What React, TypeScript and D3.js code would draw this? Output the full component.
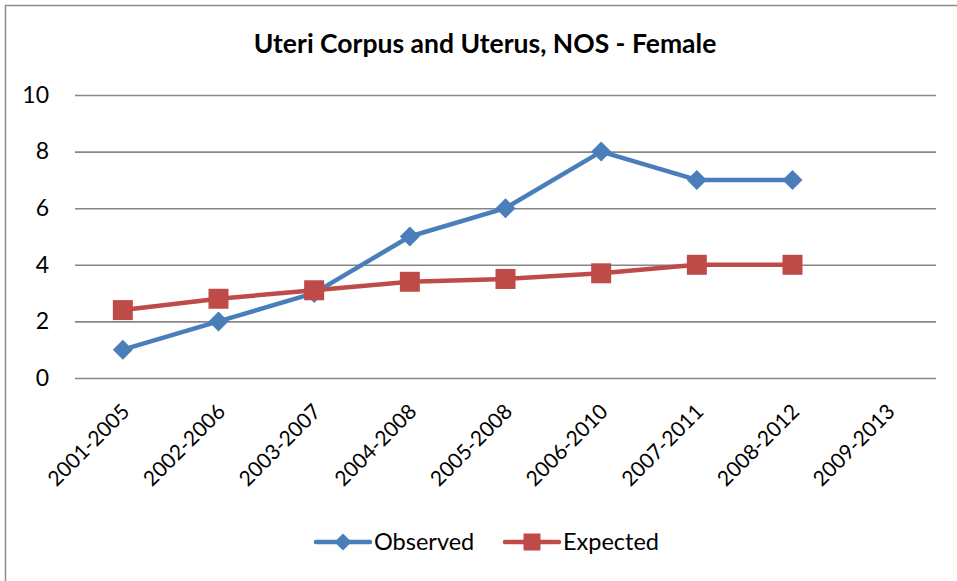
import React, { useEffect, useRef } from "react";
import { select, scaleBand, scaleLinear, line, axisLeft, axisBottom } from "d3";

const categories = [
  "2001-2005",
  "2002-2006",
  "2003-2007",
  "2004-2008",
  "2005-2008",
  "2006-2010",
  "2007-2011",
  "2008-2012",
  "2009-2013",
];
const observed = [1, 2, 3, 5, 6, 8, 7, 7, null];
const expected = [2.4, 2.8, 3.1, 3.4, 3.5, 3.7, 4.0, 4.0, null];
const yTicks = [0, 2, 4, 6, 8, 10];

const W = 957;
const H = 581;
const FONT = "Lato, 'Open Sans', sans-serif";
const BLUE = "#4a7ebb";
const RED = "#be4b48";

// marker paths centred on 0,0
const diamond = (r) => `M0,${-r}L${r},0L0,${r}L${-r},0Z`;
const square = (r) => `M${-r},${-r}H${r}V${r}H${-r}Z`;

const App = () => {
  const svgRef = useRef(null);

  useEffect(() => {
    document.body.style.margin = "0";
    const svg = select(svgRef.current);
    svg.selectAll("*").remove();

    const left = 75;
    const right = 936;
    const top = 95;
    const bottom = 378;

    const x = scaleBand().domain(categories).range([left, right]);
    const y = scaleLinear().domain([0, 10]).range([bottom, top]);
    const cx = (c) => x(c) + x.bandwidth() / 2;

    // outer chart border, cut off on the right and bottom
    svg
      .append("path")
      .attr("d", `M5.5,${H}V5.5H${W}`)
      .attr("fill", "none")
      .attr("stroke", "#8c8c8c")
      .attr("stroke-width", 1.5);

    svg
      .append("text")
      .attr("x", 485)
      .attr("y", 53)
      .attr("text-anchor", "middle")
      .style("font-family", FONT)
      .style("font-weight", "bold")
      .style("font-size", "26.5px")
      .text("Uteri Corpus and Uterus, NOS - Female");

    // y axis with gridlines
    svg
      .append("g")
      .attr("transform", `translate(${left},0)`)
      .call(axisLeft(y).tickValues(yTicks).tickSize(-(right - left)).tickPadding(26))
      .call((g) => g.select(".domain").remove())
      .call((g) => g.selectAll(".tick line").attr("stroke", "#868686").attr("stroke-width", 1.6))
      .call((g) =>
        g
          .selectAll(".tick text")
          .style("font-family", FONT)
          .style("font-size", "23px")
          .attr("fill", "#000")
      );

    // x axis labels
    svg
      .append("g")
      .attr("transform", `translate(0,${bottom})`)
      .call(axisBottom(x).tickSize(0))
      .call((g) => g.select(".domain").remove())
      .call((g) =>
        g
          .selectAll(".tick text")
          .style("font-family", FONT)
          .style("font-size", "21px")
          .attr("fill", "#000")
          .attr("text-anchor", "end")
          .attr("dy", "0")
          .attr("y", 0)
          .attr("transform", "translate(8,35) rotate(-45)")
      );

    const series = [
      { name: "Observed", values: observed, color: BLUE, marker: diamond, r: 10, lr: 8.5 },
      { name: "Expected", values: expected, color: RED, marker: square, r: 10, lr: 8.5 },
    ];

    series.forEach((s) => {
      const pts = categories.map((c, i) => ({ c, v: s.values[i] }));
      const ln = line()
        .defined((d) => d.v != null)
        .x((d) => cx(d.c))
        .y((d) => y(d.v));
      svg
        .append("path")
        .datum(pts)
        .attr("fill", "none")
        .attr("stroke", s.color)
        .attr("stroke-width", 4.5)
        .attr("stroke-linejoin", "round")
        .attr("stroke-linecap", "round")
        .attr("d", ln);
      svg
        .append("g")
        .selectAll("path")
        .data(pts.filter((d) => d.v != null))
        .join("path")
        .attr("transform", (d) => `translate(${cx(d.c)},${y(d.v)})`)
        .attr("d", s.marker(s.r))
        .attr("fill", s.color);
    });

    // legend
    const legendItems = [
      { ...series[0], x: 316 },
      { ...series[1], x: 505 },
    ];
    const ly = 542;
    legendItems.forEach((s) => {
      const g = svg.append("g");
      g.append("line")
        .attr("x1", s.x)
        .attr("x2", s.x + 54)
        .attr("y1", ly)
        .attr("y2", ly)
        .attr("stroke", s.color)
        .attr("stroke-width", 4.5)
        .attr("stroke-linecap", "round");
      g.append("path")
        .attr("transform", `translate(${s.x + 27},${ly})`)
        .attr("d", s.marker(s.lr))
        .attr("fill", s.color);
      g.append("text")
        .attr("x", s.x + 58)
        .attr("y", ly + 8)
        .style("font-family", FONT)
        .style("font-size", "23.5px")
        .text(s.name);
    });
  }, []);

  return <svg ref={svgRef} width={W} height={H} style={{ display: "block" }} />;
};

export default App;
